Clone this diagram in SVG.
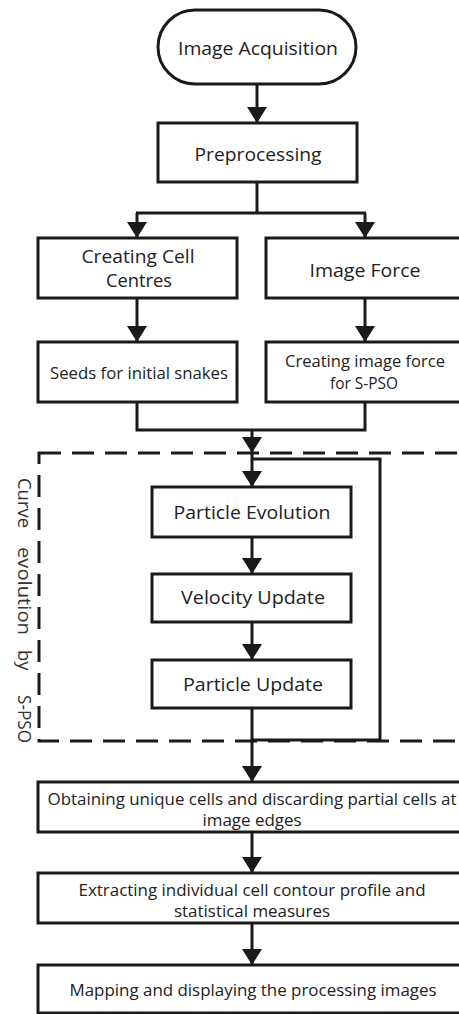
<svg xmlns="http://www.w3.org/2000/svg" width="459" height="1014" viewBox="0 0 459 1014">
<style>
.box{fill:#fff;stroke:#1a1a1a;stroke-width:3}
.ln{fill:none;stroke:#1a1a1a;stroke-width:3}
.ar{fill:none;stroke:#1a1a1a;stroke-width:3;marker-end:url(#arr)}
.dash{fill:none;stroke:#1a1a1a;stroke-width:3;stroke-dasharray:22 11}
.t{font-family:"Open Sans","Liberation Sans",sans-serif;font-size:19px;fill:#222;text-anchor:middle}
.s{font-family:"Open Sans","Liberation Sans",sans-serif;font-size:16px;fill:#222;text-anchor:middle}
.v{font-family:"Open Sans","Liberation Sans",sans-serif;font-size:18.5px;fill:#333}
</style>
<defs>
<marker id="arr" markerUnits="userSpaceOnUse" markerWidth="16" markerHeight="20" viewBox="0 0 16 20" refX="16" refY="10" orient="auto">
<path d="M0,0 L16,10 L0,20 z" fill="#1a1a1a"/>
</marker>
</defs>

<g id="group-curve-evolution">
<rect class="dash" x="39" y="453" width="460" height="288"/>
<text class="v" transform="translate(18,478) rotate(90)" textLength="50" lengthAdjust="spacingAndGlyphs">Curve</text>
<text class="v" transform="translate(18,547) rotate(90)" textLength="88" lengthAdjust="spacingAndGlyphs">evolution</text>
<text class="v" transform="translate(18,650) rotate(90)">by</text>
<text class="v" transform="translate(18,695) rotate(90)" textLength="48" lengthAdjust="spacingAndGlyphs">S-PSO</text>
</g>

<g id="connectors">
<line class="ar" x1="257" y1="84" x2="257" y2="123"/>
<polyline class="ln" points="257,182 257,213"/>
<polyline class="ar" points="137,213 137,238"/>
<polyline class="ln" points="136,213 366,213"/>
<polyline class="ar" points="365,213 365,238"/>
<line class="ar" x1="137" y1="298" x2="137" y2="342"/>
<line class="ar" x1="365" y1="298" x2="365" y2="342"/>
<polyline class="ln" points="137,402 137,430 365,430 365,402"/>
<line class="ar" x1="252" y1="430" x2="252" y2="453"/>
<line class="ar" x1="252" y1="453" x2="252" y2="487"/>
<polyline class="ln" points="252,459 380,459 380,740 252,740"/>
<line class="ar" x1="252" y1="537" x2="252" y2="574"/>
<line class="ar" x1="252" y1="622" x2="252" y2="660"/>
<line class="ar" x1="252" y1="708" x2="252" y2="782"/>
<line class="ar" x1="252" y1="832" x2="252" y2="873"/>
<line class="ar" x1="252" y1="923" x2="252" y2="965"/>
</g>

<g id="image-acquisition">
<rect class="box" x="158" y="10" width="198" height="74" rx="37"/>
<text class="t" x="258" y="55" textLength="160" lengthAdjust="spacingAndGlyphs">Image Acquisition</text>
</g>
<g id="preprocessing">
<rect class="box" x="158" y="123" width="199" height="59"/>
<text class="t" x="258" y="161" textLength="127" lengthAdjust="spacingAndGlyphs">Preprocessing</text>
</g>
<g id="creating-cell-centres">
<rect class="box" x="38" y="238" width="199" height="60"/>
<text class="t" x="138" y="263" textLength="113" lengthAdjust="spacingAndGlyphs">Creating Cell</text>
<text class="t" x="139" y="287" textLength="66" lengthAdjust="spacingAndGlyphs">Centres</text>
</g>
<g id="image-force">
<rect class="box" x="266" y="238" width="200" height="60"/>
<text class="t" x="365" y="277" textLength="111" lengthAdjust="spacingAndGlyphs">Image Force</text>
</g>
<g id="seeds">
<rect class="box" x="38" y="342" width="199" height="60"/>
<text class="s" x="139" y="379" textLength="178" lengthAdjust="spacingAndGlyphs">Seeds for initial snakes</text>
</g>
<g id="creating-image-force">
<rect class="box" x="266" y="342" width="200" height="60"/>
<text class="s" x="365" y="367" textLength="160" lengthAdjust="spacingAndGlyphs">Creating image force</text>
<text class="s" x="364" y="389" textLength="68" lengthAdjust="spacingAndGlyphs">for S-PSO</text>
</g>
<g id="particle-evolution">
<rect class="box" x="152" y="487" width="199" height="50"/>
<text class="t" x="252" y="519" textLength="157" lengthAdjust="spacingAndGlyphs">Particle Evolution</text>
</g>
<g id="velocity-update">
<rect class="box" x="152" y="574" width="199" height="48"/>
<text class="t" x="253" y="604" textLength="144" lengthAdjust="spacingAndGlyphs">Velocity Update</text>
</g>
<g id="particle-update">
<rect class="box" x="152" y="660" width="199" height="48"/>
<text class="t" x="253" y="691" textLength="140" lengthAdjust="spacingAndGlyphs">Particle Update</text>
</g>
<g id="obtaining-unique-cells">
<rect class="box" x="38" y="782" width="430" height="50"/>
<text class="s" x="252" y="805" textLength="409" lengthAdjust="spacingAndGlyphs">Obtaining unique cells and discarding partial cells at</text>
<text class="s" x="252" y="826" textLength="99" lengthAdjust="spacingAndGlyphs">image edges</text>
</g>
<g id="extracting-contour">
<rect class="box" x="38" y="873" width="430" height="50"/>
<text class="s" x="252" y="896" textLength="347" lengthAdjust="spacingAndGlyphs">Extracting individual cell contour profile and</text>
<text class="s" x="252" y="917" textLength="156" lengthAdjust="spacingAndGlyphs">statistical measures</text>
</g>
<g id="mapping-displaying">
<rect class="box" x="38" y="965" width="430" height="48"/>
<text class="s" x="253" y="996" textLength="367" lengthAdjust="spacingAndGlyphs">Mapping and displaying the processing images</text>
</g>
</svg>
